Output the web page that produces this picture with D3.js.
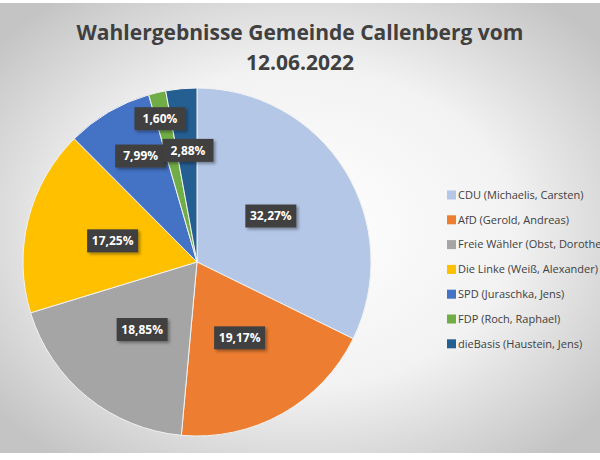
<!DOCTYPE html>
<html>
<head>
<meta charset="utf-8">
<script src="https://cdn.jsdelivr.net/npm/d3@7"></script>
<style>
  body { margin: 0; background: #fff; }
  svg { display: block; }
</style>
</head>
<body>
<div id="chart"></div>
<script>
const parties = ["CDU (Michaelis, Carsten)", "AfD (Gerold, Andreas)", "Freie Wähler (Obst, Dorothea)",
  "Die Linke (Weiß, Alexander)", "SPD (Juraschka, Jens)", "FDP (Roch, Raphael)", "dieBasis (Haustein, Jens)"];
const shares = [32.27, 19.17, 18.85, 17.25, 7.99, 1.60, 2.88];
const colors = ["#b4c7e7", "#ed7d31", "#a5a5a5", "#ffc000", "#4472c4", "#70ad47", "#255e91"];
const titleLines = ["Wahlergebnisse Gemeinde Callenberg vom", "12.06.2022"];

const width = 600, height = 460;
const cx = 197, cy = 262, radius = 174;

const svg = d3.select("#chart").append("svg")
  .attr("width", width)
  .attr("height", height)
  .style("font-family", "'Open Sans', sans-serif");

const defs = svg.append("defs");
const bg = defs.append("radialGradient")
  .attr("id", "bg")
  .attr("cx", "50%").attr("cy", "50%").attr("r", "65%");
bg.append("stop").attr("offset", "0%").attr("stop-color", "#ffffff");
bg.append("stop").attr("offset", "55%").attr("stop-color", "#f2f2f2");
bg.append("stop").attr("offset", "100%").attr("stop-color", "#c4c4c4");

const shadow = defs.append("filter").attr("id", "shadow")
  .attr("x", "-20%").attr("y", "-20%").attr("width", "150%").attr("height", "160%");
shadow.append("feDropShadow")
  .attr("dx", 2).attr("dy", 2).attr("stdDeviation", 1.5)
  .attr("flood-color", "#000").attr("flood-opacity", 0.35);

svg.append("rect")
  .attr("x", 0).attr("y", 3)
  .attr("width", width).attr("height", 450)
  .attr("fill", "url(#bg)");

// title
svg.append("g")
  .selectAll("text")
  .data(titleLines)
  .join("text")
  .attr("x", 300)
  .attr("y", (d, i) => 40 + i * 30)
  .attr("text-anchor", "middle")
  .attr("font-size", 21)
  .attr("font-weight", "bold")
  .attr("fill", "#404040")
  .text(d => d);

const data = parties.map((p, i) => ({ name: p, value: shares[i], color: colors[i] }));

const pie = d3.pie().sort(null).value(d => d.value);
const arcs = pie(data);
const arc = d3.arc().innerRadius(0).outerRadius(radius);

const g = svg.append("g").attr("transform", `translate(${cx},${cy})`);

g.selectAll("path")
  .data(arcs)
  .join("path")
  .attr("d", arc)
  .attr("fill", d => d.data.color)
  .attr("stroke", "#f2f2f2")
  .attr("stroke-width", 1);

// labels sit at half radius, small slices were nudged outward in the original
const fmt = v => d3.format(".2f")(v).replace(".", ",") + "%";
const labelShift = { 4: [120, -28], 5: [148, -14.5], 6: [112, -4.6] }; // [radius, angle deg]
const labelPos = (d, i) => {
  if (labelShift[i]) {
    const a = labelShift[i][1] * Math.PI / 180;
    return [labelShift[i][0] * Math.sin(a), -labelShift[i][0] * Math.cos(a)];
  }
  return arc.centroid(d).map(v => v * 87 / (radius / 2));
};

const labels = g.selectAll("g.lbl")
  .data(arcs)
  .join("g")
  .attr("class", "lbl")
  .attr("transform", (d, i) => `translate(${labelPos(d, i)})`);

labels.append("rect")
  .attr("x", -25.5).attr("y", -11.5)
  .attr("width", 51).attr("height", 23)
  .attr("fill", "#404040")
  .attr("filter", "url(#shadow)");

labels.append("text")
  .attr("text-anchor", "middle")
  .attr("dy", "0.36em")
  .attr("font-size", 12)
  .attr("font-weight", "bold")
  .attr("fill", "#fff")
  .text(d => fmt(d.data.value));

// legend
const legend = svg.append("g").attr("transform", "translate(447,195)");

const rows = legend.selectAll("g.row")
  .data(data)
  .join("g")
  .attr("class", "row")
  .attr("transform", (d, i) => `translate(0,${i * 24.8})`);

rows.append("rect")
  .attr("x", 0).attr("y", -4.5)
  .attr("width", 9).attr("height", 9)
  .attr("fill", d => d.color);

rows.append("text")
  .attr("x", 11)
  .attr("dy", "0.35em")
  .attr("font-size", 11)
  .attr("fill", "#404040")
  .text(d => d.name);
</script>
</body>
</html>
